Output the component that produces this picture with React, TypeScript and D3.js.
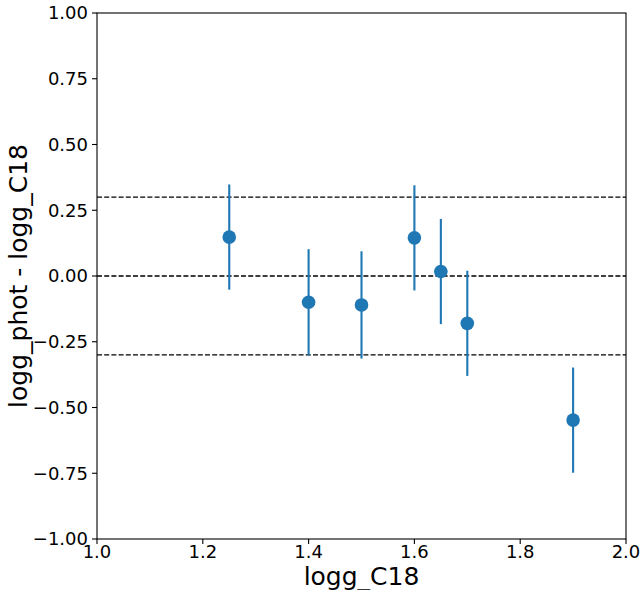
import React from "react";
import * as d3 from "d3";

const xValues = [1.25, 1.4, 1.5, 1.6, 1.65, 1.7, 1.9];
const yValues = [0.148, -0.1, -0.11, 0.145, 0.017, -0.18, -0.548];
const yErrors = [0.2, 0.202, 0.204, 0.2, 0.2, 0.2, 0.2];
const refLines = [0.3, 0, -0.3];
const xTicks = [1.0, 1.2, 1.4, 1.6, 1.8, 2.0];
const yTicks = [1.0, 0.75, 0.5, 0.25, 0.0, -0.25, -0.5, -0.75, -1.0];

const W = 642;
const H = 590;
const left = 97;
const right = 626;
const top = 13;
const bottom = 539;
const color = "#1f77b4";
const font = "DejaVu Sans";

export default function App() {
  const x = d3.scaleLinear().domain([1, 2]).range([left, right]);
  const y = d3.scaleLinear().domain([-1, 1]).range([bottom, top]);
  return (
    <svg
      width={W}
      height={H}
      style={{ position: "absolute", left: 0, top: 0, background: "#fff" }}
      fontFamily={font}
    >
      <rect x={0} y={0} width={W} height={H} fill="#fff" />
      {refLines.map((v, i) => (
        <line
          key={"r" + i}
          x1={left}
          x2={right}
          y1={y(v)}
          y2={y(v)}
          stroke="#000"
          strokeWidth={1.3}
          strokeDasharray="5,2.2"
        />
      ))}
      {xValues.map((xv, i) => (
        <g key={"p" + i}>
          <line
            x1={x(xv)}
            x2={x(xv)}
            y1={y(yValues[i] + yErrors[i])}
            y2={y(yValues[i] - yErrors[i])}
            stroke={color}
            strokeWidth={2.1}
          />
          <circle cx={x(xv)} cy={y(yValues[i])} r={6.8} fill={color} />
        </g>
      ))}
      <rect
        x={left}
        y={top}
        width={right - left}
        height={bottom - top}
        fill="none"
        stroke="#000"
        strokeWidth={1.1}
      />
      {xTicks.map((t, i) => (
        <g key={"xt" + i}>
          <line x1={x(t)} x2={x(t)} y1={bottom} y2={bottom + 5} stroke="#000" strokeWidth={1.1} />
          <text x={x(t)} y={558} textAnchor="middle" fontSize={18} fill="#000">
            {t.toFixed(1)}
          </text>
        </g>
      ))}
      {yTicks.map((t, i) => (
        <g key={"yt" + i}>
          <line x1={left - 5} x2={left} y1={y(t)} y2={y(t)} stroke="#000" strokeWidth={1.1} />
          <text
            x={88}
            y={y(t)}
            dy="0.36em"
            textAnchor="end"
            fontSize={18}
            fill="#000"
          >
            {t.toFixed(2).replace("-", "\u2212")}
          </text>
        </g>
      ))}
      <text x={(left + right) / 2} y={585} textAnchor="middle" fontSize={25} fill="#000">
        logg_C18
      </text>
      <text
        transform={`translate(27, ${(top + bottom) / 2}) rotate(-90)`}
        textAnchor="middle"
        fontSize={25}
        fill="#000"
      >
        logg_phot - logg_C18
      </text>
    </svg>
  );
}
